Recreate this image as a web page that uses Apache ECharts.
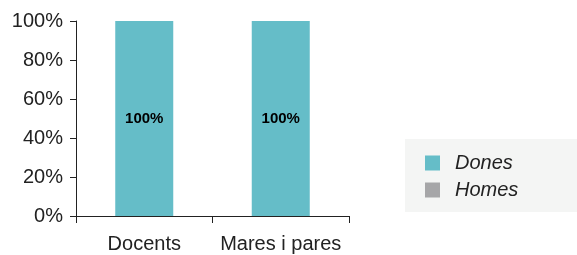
<!DOCTYPE html>
<html>
<head>
<meta charset="utf-8">
<script src="https://cdn.jsdelivr.net/npm/echarts@6/dist/echarts.min.js"></script>
<style>
html,body{margin:0;padding:0;background:#fff;}
#chart{width:577px;height:255px;}
</style>
</head>
<body>
<div id="chart"></div>
<script>
// categories / series
var categories = ['Docents', 'Mares i pares'];
var dones = [100, 100];
var homes = [0, 0];
var yTicks = [0, 20, 40, 60, 80, 100];

var FONT = 'Liberation Sans';
var chart = echarts.init(document.getElementById('chart'));

var option = {
	animation: false,
	grid: { left: 76, right: 228, top: 21, bottom: 39 },
	legend: {
		orient: 'vertical',
		left: 405,
		top: 139,
		padding: [14, 60, 12, 20],
		backgroundColor: '#f4f5f4',
		itemWidth: 15,
		itemHeight: 15,
		itemGap: 7,
		icon: 'rect',
		textStyle: { fontFamily: FONT, fontSize: 20, fontStyle: 'italic', color: '#222', padding: [0, 0, 0, 10] },
		data: ['Dones', 'Homes']
	},
	xAxis: {
		type: 'category',
		data: categories,
		axisLine: { lineStyle: { color: '#222', width: 1 } },
		axisTick: { show: true, length: 7, lineStyle: { color: '#222' } },
		axisLabel: { fontFamily: FONT, fontSize: 20, color: '#222', margin: 18, interval: 0 }
	},
	yAxis: {
		type: 'value',
		min: yTicks[0],
		max: yTicks[yTicks.length - 1],
		interval: 20,
		axisLine: { show: true, lineStyle: { color: '#222', width: 1 } },
		axisTick: { show: true, length: 6, lineStyle: { color: '#222' } },
		splitLine: { show: false },
		axisLabel: { fontFamily: FONT, fontSize: 20, color: '#222', margin: 13, formatter: '{value}%' }
	},
	series: [{
		name: 'Dones',
		type: 'bar',
		stack: 'total',
		barWidth: 58,
		itemStyle: { color: '#65bdc8' },
		label: {
			show: true, position: 'inside', formatter: '{c}%',
			fontFamily: FONT, fontSize: 15, fontWeight: 'bold', color: '#000'
		},
		data: dones
	}, {
		name: 'Homes',
		type: 'bar',
		stack: 'total',
		barWidth: 58,
		itemStyle: { color: '#a6a6a8' },
		data: homes
	}]
};

chart.setOption(option);
</script>
</body>
</html>
